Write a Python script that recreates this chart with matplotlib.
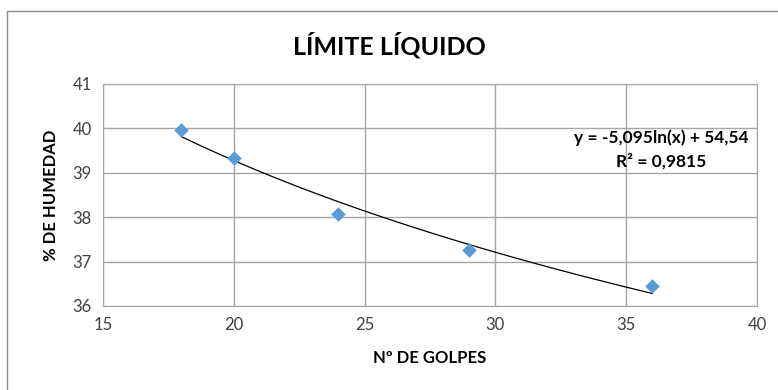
import numpy as np
import matplotlib
matplotlib.use("Agg")
import matplotlib.pyplot as plt
from matplotlib.patches import Rectangle

plt.rcParams["font.family"] = ["Lato", "DejaVu Sans"]

# ensayo de Casagrande
golpes = [18, 20, 24, 29, 36]
humedad = [39.96, 39.33, 38.07, 37.26, 36.46]

# linea de tendencia logaritmica
coef_a = -5.095
coef_b = 54.54
eq_texto = "y = -5,095ln(x) + 54,54"
r2_texto = "R² = 0,9815"

x_ticks = [15, 20, 25, 30, 35, 40]
y_ticks = [36, 37, 38, 39, 40, 41]

fig = plt.figure(figsize=(7.78, 3.90), dpi=100)
ax = fig.add_axes([103 / 778, 1 - 306 / 390, 654 / 778, 222 / 390])

# marco del grafico
fig.patches.append(Rectangle((7 / 778, -0.1), 1.1, 1 - 11 / 390 + 0.1,
                             transform=fig.transFigure, fill=False,
                             edgecolor="#8c8c8c", linewidth=1.0))

xs = np.linspace(min(golpes), max(golpes), 100)
ax.plot(xs, coef_a * np.log(xs) + coef_b, color="black", linewidth=0.9, zorder=3)
ax.scatter(golpes, humedad, marker="D", s=55, color="#5b9bd5", zorder=4, linewidths=0)

ax.set_xlim(15, 40)
ax.set_ylim(36, 41)
ax.set_xticks(x_ticks)
ax.set_yticks(y_ticks)
ax.grid(True, color="#a6a6a6", linewidth=1.0)
ax.set_axisbelow(True)
for s in ax.spines.values():
    s.set_color("#a6a6a6")
ax.tick_params(length=0, labelsize=12, colors="#404040", pad=8)

ax.set_xlabel("Nº DE GOLPES", fontsize=12, fontweight="bold", labelpad=12)
ax.set_ylabel("% DE HUMEDAD", fontsize=12, fontweight="bold", labelpad=10)
fig.text(0.5, 1 - 45 / 390, "LÍMITE LÍQUIDO", ha="center", va="center",
         fontsize=18, fontweight="bold")

fig.text(661 / 778, 1 - 138 / 390, eq_texto, ha="center", va="center",
         fontsize=12.5, fontweight="bold")
fig.text(661 / 778, 1 - 161 / 390, r2_texto, ha="center", va="center",
         fontsize=12.5, fontweight="bold")

fig.savefig("out.png", dpi=100)
